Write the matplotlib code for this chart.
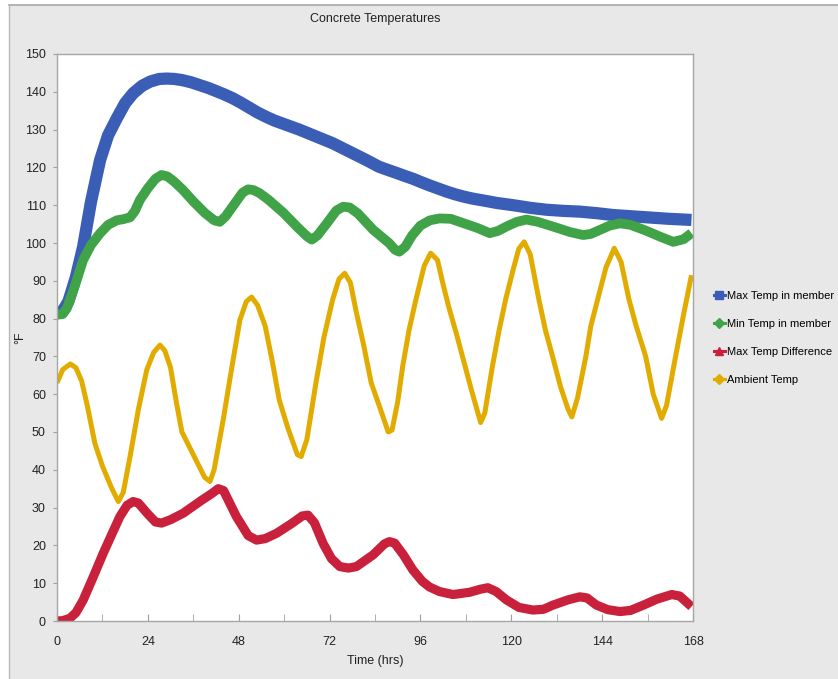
import matplotlib
matplotlib.use("Agg")
import matplotlib.pyplot as plt
from matplotlib.patches import Rectangle
from matplotlib.lines import Line2D
from matplotlib.ticker import MultipleLocator

plt.rcParams['font.family'] = ['Liberation Sans Narrow', 'Liberation Sans', 'DejaVu Sans']

# ---- data ----
max_t = [0, 1.5, 3, 5, 6.9, 9, 11.4, 13.5, 15.8, 18, 20.1, 22.5, 24.6, 27, 29, 31, 33.0, 35.5, 37.6, 40, 42.0,
         44.2, 46.4, 48.6, 50.8, 53, 55.2, 57.4, 59.6, 61.8, 64, 66.2, 68.4, 70.6, 72.8, 75, 77.2, 79.4, 81.6,
         83.3, 85, 87.2, 89.5, 91.7, 94, 96.2, 98.5, 100.7, 102.9, 105.1, 107.3, 109.5, 111.7, 114, 116.1,
         118.3, 120.5, 125, 129.3, 133.7, 138.1, 142.5, 146.9, 151.3, 155.7, 161.6, 167.6]
max_v = [81.5, 82, 84.5, 91, 99, 111, 122, 128.5, 133, 137, 139.6, 141.6, 142.7, 143.4, 143.5, 143.4, 143.1, 142.5,
         141.8, 141.0, 140.2, 139.3, 138.3, 137.1, 135.8, 134.5, 133.4, 132.4, 131.6, 130.8, 130, 129.1, 128.2,
         127.3, 126.4, 125.3, 124.2, 123.1, 122, 121.1, 120.2, 119.4, 118.6, 117.8, 117, 116.1, 115.2, 114.4,
         113.6, 112.9, 112.3, 111.8, 111.4, 111.0, 110.6, 110.3, 110, 109.3, 108.8, 108.5, 108.3, 107.9, 107.4,
         107.1, 106.8, 106.4, 106.1]

min_t = [0, 1.5, 2.6, 4.5, 6.9, 9, 11.4, 13.5, 15.8, 17.5, 19.3, 20.6, 21.9, 24, 26, 27.6, 29.2, 31, 33.3, 36, 39,
         41.5, 43, 44.5, 47, 49, 50.5, 51.9, 53.5, 55.8, 59.8, 63.5, 66, 67.3, 68.8, 71.5, 73.8, 75.6, 77.3,
         79.5, 83.5, 87.7, 89.3, 90.4, 92, 93.8, 96, 98.5, 101, 104, 107.5, 111, 114.3, 116.5, 119, 121.5, 124,
         127, 131.5, 135.5, 139, 141, 143.5, 146, 148.7, 151.5, 155.5, 159.5, 162.8, 165.5, 167.6]
min_v = [81, 81.2, 82.7, 88, 95.5, 99.5, 102.6, 104.8, 106, 106.3, 106.8, 108.5, 111.4, 114.5, 117, 118, 117.6,
         116.2, 114, 111, 108, 106, 105.6, 107, 110.5, 113.3, 114.2, 114, 113.2, 111.5, 108, 104.2, 101.8, 100.9,
         102, 105.5, 108.6, 109.6, 109.4, 107.8, 103.5, 100, 98.2, 97.7, 99, 102, 104.6, 106, 106.5, 106.4, 105.2,
         104, 102.6, 103.2, 104.5, 105.6, 106.2, 105.6, 104.2, 102.9, 102.1, 102.4, 103.5, 104.6, 105.2, 104.8,
         103.3, 101.6, 100.3, 101, 102.6]

diff_t = [0, 1.5, 3.4, 5, 6.9, 9.5, 12.2, 14.5, 16.6, 18.5, 20.1, 21.5, 24, 26, 27.6, 30, 33.3, 38, 41, 42.6, 44,
          47.4, 50.5, 52.7, 55, 58, 62, 64.8, 66.3, 68, 70.3, 72.5, 74.7, 77, 79.1, 83.5, 86.5, 87.8, 89.2, 91.5,
          94, 96.5, 98.4, 101, 104.6, 109, 111.8, 113.8, 116, 118.7, 122, 125.7, 128.5, 131, 135, 138.1, 140,
          142.5, 145.5, 148.7, 151.5, 154.9, 158.5, 162.4, 164.5, 167.6]
diff_v = [0, 0.1, 0.7, 2.2, 5.5, 11.5, 17.9, 23, 27.6, 30.6, 31.6, 31.2, 28.3, 26.2, 25.9, 26.8, 28.5, 31.8, 33.8,
          35, 34.5, 27.6, 22.6, 21.4, 21.8, 23.2, 25.8, 27.8, 28, 26, 20.5, 16.5, 14.4, 14.0, 14.4, 17.5, 20.4,
          21, 20.6, 17.5, 13.5, 10.5, 9, 7.8, 7, 7.6, 8.4, 8.8, 7.8, 5.6, 3.6, 2.9, 3.1, 4.2, 5.6, 6.4, 6.1, 4.2,
          3.0, 2.5, 2.8, 4.2, 5.8, 7, 6.6, 3.8]

amb_t = [0, 1.5, 3.5, 5, 6.5, 8, 10, 12, 14.5, 16.2, 17.5, 19.3, 21.5, 23.7, 25.5, 27.2, 28.5, 30, 31.5, 33, 34.5,
         36.5, 39, 40.4, 41.5, 43.9, 46, 48.3, 50, 51.4, 53, 55, 57, 58.7, 61, 63.5, 64.5, 66, 68.4, 70.5, 72.8,
         74.5, 76, 77.5, 79, 81, 83, 85.2, 87.5, 88.5, 90, 91.3, 93, 94.8, 97, 98.7, 100.5, 102, 103.5, 105.5,
         107.1, 109.5, 111.9, 113, 115, 116.8, 118.5, 120.5, 122, 123.4, 125, 127.3, 129, 130.9, 133, 135, 136,
         137.5, 139.7, 141, 142.8, 145, 147.2, 149, 151.1, 153, 155.5, 157.5, 159.7, 161, 163.4, 165.5, 167.6]
amb_v = [63, 66.5, 68, 67, 63.5, 57, 47, 41, 35, 31.6, 34, 43.5, 56, 66.4, 71, 73, 71.5, 67, 58, 50, 47, 43, 38,
         36.9, 40, 53.2, 66, 79.6, 84.5, 85.7, 83.5, 78, 68, 58.5, 51, 44, 43.5, 48, 63, 75, 85, 90.5, 92, 89.5,
         82, 73, 63, 56.7, 50, 50.5, 58, 67.3, 77, 85, 94, 97.3, 95.5, 89, 83, 76, 70, 61, 52.5, 55, 67.3, 77, 85,
         93, 98.5, 100.3, 97, 85, 77, 70, 62, 56, 54, 59, 70, 78, 85, 93.5, 98.6, 95, 85, 78, 70, 60, 53.6, 57, 70,
         81, 91.5]

series = [
    ("Max Temp in member", max_t, max_v, "#3a5db5", 8.8, "s"),
    ("Min Temp in member", min_t, min_v, "#40a348", 7.0, "D"),
    ("Max Temp Difference", diff_t, diff_v, "#c9213b", 6.6, "^"),
    ("Ambient Temp", amb_t, amb_v, "#e1ab00", 3.6, "D"),
]

x_ticks = [0, 24, 48, 72, 96, 120, 144, 168]
y_ticks = list(range(0, 151, 10))

W, H = 838, 679
fig = plt.figure(figsize=(W / 100, H / 100), dpi=100)
fig.patch.set_facecolor("white")
bg = Rectangle((9 / W, 0), 1 - 9 / W, 1 - 5 / H, transform=fig.transFigure,
               facecolor="#e8e8e8", edgecolor="none", zorder=-10)
fig.patches.append(bg)
fig.add_artist(Line2D([9 / W, 1], [1 - 5 / H, 1 - 5 / H], transform=fig.transFigure, color="#a8a8a8", lw=1.2))
fig.add_artist(Line2D([9 / W, 9 / W], [0, 1 - 5 / H], transform=fig.transFigure, color="#b8b8b8", lw=1.0))

ax = fig.add_axes([57 / W, 1 - 621 / H, (693 - 57) / W, (621 - 54) / H])
ax.set_facecolor("white")

for name, t, v, c, lw, m in series:
    ax.plot(t, v, color=c, lw=lw, solid_joinstyle="round", solid_capstyle="butt", label=name)

ax.set_xlim(0, 168)
ax.set_ylim(0, 150)
ax.set_xticks(x_ticks)
ax.xaxis.set_minor_locator(MultipleLocator(12))
ax.set_yticks(y_ticks)
ax.tick_params(axis="x", which="both", direction="in", length=5, color="#a0a0a0", labelsize=9,
               pad=11, labelcolor="#222222")
ax.tick_params(axis="y", direction="out", length=3, color="#a0a0a0", labelsize=9, pad=5,
               labelcolor="#222222")
for s in ax.spines.values():
    s.set_color("#a6a6a6")
    s.set_linewidth(1.0)

ax.set_title("Concrete Temperatures", fontsize=9, pad=23, color="#222222")
ax.set_xlabel("Time (hrs)", fontsize=9, labelpad=5, color="#222222")
ax.set_ylabel("°F", fontsize=9, color="#222222")
ax.yaxis.set_label_coords(-0.048, 0.5)

handles = [Line2D([0], [0], color=c, lw=2.2, marker=m, markersize=5.5, markerfacecolor=c, markeredgecolor=c)
           for name, t, v, c, lw, m in series]
labels = [s[0] for s in series]
fig.legend(handles, labels, loc="upper left", bbox_to_anchor=(708 / W, 1 - 285 / H), frameon=False,
           fontsize=8, handlelength=1.0, handletextpad=0.2, labelspacing=1.62, borderpad=0)

fig.savefig("out.png", dpi=100, facecolor=fig.get_facecolor())
